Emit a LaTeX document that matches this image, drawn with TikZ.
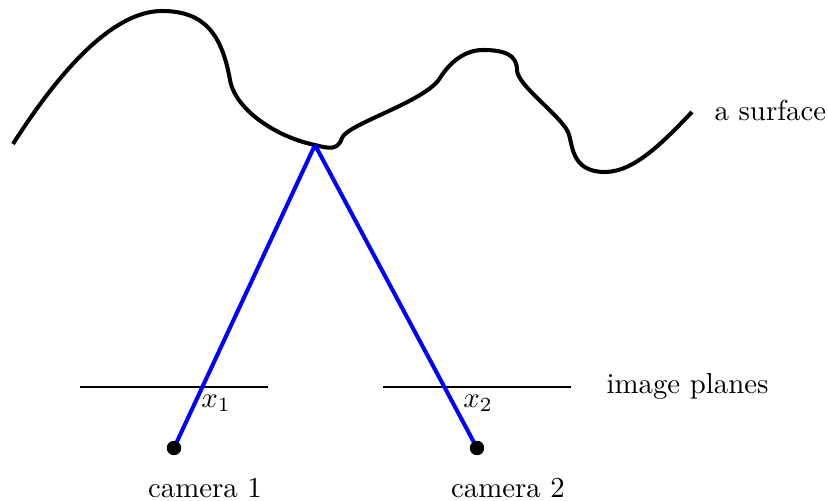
\documentclass[tikz,border=0pt]{standalone}
\begin{document}
\begin{tikzpicture}[x=0.3466pt,y=-0.3466pt,
  surf/.style={line width=1.4pt,line join=round},
  ray/.style={blue,line width=1.4pt},
  plane/.style={line width=0.7pt},
  cam/.style={circle,fill=black,inner sep=0pt,minimum size=4.9pt},
  lbl/.style={inner sep=0pt}]
\useasboundingbox (0,0) rectangle (828,501);
\draw[surf] (13,144) .. controls (55,78) and (110,11) .. (162,11)
  .. controls (205,11) and (222,35) .. (230,80)
  .. controls (236,112) and (280,138) .. (315,145)
  .. controls (330,149) and (338,150) .. (342,138)
  .. controls (347,124) and (425,102) .. (440,78)
  .. controls (450,62) and (465,50) .. (483,50)
  .. controls (505,50) and (517,55) .. (517,70)
  .. controls (517,85) and (560,115) .. (568,132)
  .. controls (573,143) and (570,172) .. (605,172)
  .. controls (635,172) and (665,140) .. (692,112);
\coordinate (apex) at (315,145);
\node[cam] (c1) at (174,448) {};
\node[cam] (c2) at (477,448) {};
\coordinate (p1a) at (80,387); \coordinate (p1b) at (268,387);
\coordinate (p2a) at (383,387); \coordinate (p2b) at (571,387);
\draw[plane] (p1a) -- (p1b);
\draw[plane] (p2a) -- (p2b);
\draw[ray] (apex) -- (c1.center);
\draw[ray] (apex) -- (c2.center);
\node[cam] at (c1) {};
\node[cam] at (c2) {};
\node[lbl] (x1) at (216,403) {$x_1$};
\node[lbl] (x2) at (478,403) {$x_2$};
\node[lbl] (t1) at (205,488) {camera 1};
\node[lbl] (t2) at (508,488) {camera 2};
\node[lbl,anchor=west] (ip) at (606,386) {image planes};
\node[lbl,anchor=west] (as) at (714,110) {a surface};
\end{tikzpicture}
\end{document}
